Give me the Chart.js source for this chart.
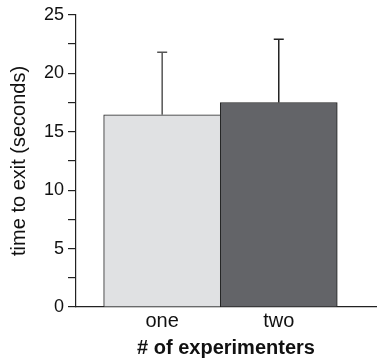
<!DOCTYPE html>
<html>
<head>
<meta charset="utf-8">
<script src="https://cdn.jsdelivr.net/npm/chart.js@4"></script>
<style>
  html, body { margin: 0; padding: 0; background: #fff; }
  #wrap { width: 378px; height: 358px; }
</style>
</head>
<body>
<div id="wrap"><canvas id="data-chart" width="378" height="358"></canvas></div>
<script>
var categories = ['one', 'two'];
var means = [16.45, 17.5];
var errors = [5.35, 5.4];
var barColors = ['#e0e1e3', '#636468'];
var errColors = ['#555555', '#222222'];
var yTickLabels = [0, 5, 10, 15, 20, 25];

var FONT = '"Liberation Sans", Arial, Helvetica, sans-serif';

// draws the upward error bars
var errorBars = {
    id: 'errorBars',
    afterDatasetsDraw: function (chart) {
        var ctx = chart.ctx;
        var meta = chart.getDatasetMeta(0);
        var y = chart.scales.y;
        ctx.save();
        meta.data.forEach(function (bar, i) {
            var top = y.getPixelForValue(means[i] + errors[i]);
            ctx.strokeStyle = errColors[i];
            ctx.lineWidth = 1.5;
            ctx.beginPath();
            ctx.moveTo(bar.x, bar.y);
            ctx.lineTo(bar.x, top);
            ctx.moveTo(bar.x - 5, top);
            ctx.lineTo(bar.x + 5, top);
            ctx.stroke();
        });
        ctx.restore();
    }
};

var ctx = document.getElementById('data-chart').getContext('2d');
var chart = new Chart(ctx, {
    type: 'bar',
    data: {
        datasets: [{
            data: means.map(function (v, i) { return { x: i + 1, y: v }; }),
            backgroundColor: barColors,
            borderColor: '#222',
            borderWidth: 1,
            borderSkipped: 'bottom',
            barThickness: 117
        }]
    },
    options: {
        responsive: false,
        animation: false,
        layout: { padding: { left: 0, right: 2, top: 7, bottom: -2 } },
        plugins: {
            legend: { display: false },
            tooltip: { enabled: false }
        },
        scales: {
            x: {
                type: 'linear',
                offset: false,
                min: 0.261,
                max: 2.834,
                afterBuildTicks: function (scale) {
                    scale.ticks = categories.map(function (c, i) { return { value: i + 1 }; });
                },
                ticks: {
                    color: '#111',
                    font: { family: FONT, size: 20 },
                    padding: 2.5,
                    callback: function (v) { return categories[v - 1]; }
                },
                grid: { display: false, drawTicks: false, offset: false },
                border: { display: true, color: '#222', width: 1.2 },
                title: {
                    display: true,
                    text: '# of experimenters',
                    color: '#111',
                    font: { family: FONT, size: 20, weight: 'bold' },
                    padding: { top: 0, bottom: 0 }
                }
            },
            y: {
                min: 0,
                max: 25,
                ticks: {
                    stepSize: 2.5,
                    color: '#111',
                    font: { family: FONT, size: 18 },
                    padding: 4,
                    callback: function (v) { return yTickLabels.indexOf(v) >= 0 ? v : ''; }
                },
                grid: {
                    drawOnChartArea: false,
                    drawTicks: true,
                    tickLength: 8,
                    color: '#222',
                    lineWidth: 1.2
                },
                border: { display: true, color: '#222', width: 1.2 },
                title: {
                    display: true,
                    text: 'time to exit (seconds)',
                    color: '#111',
                    font: { family: FONT, size: 20 },
                    padding: { top: 7, bottom: 9 }
                }
            }
        }
    },
    plugins: [errorBars]
});
</script>
</body>
</html>
